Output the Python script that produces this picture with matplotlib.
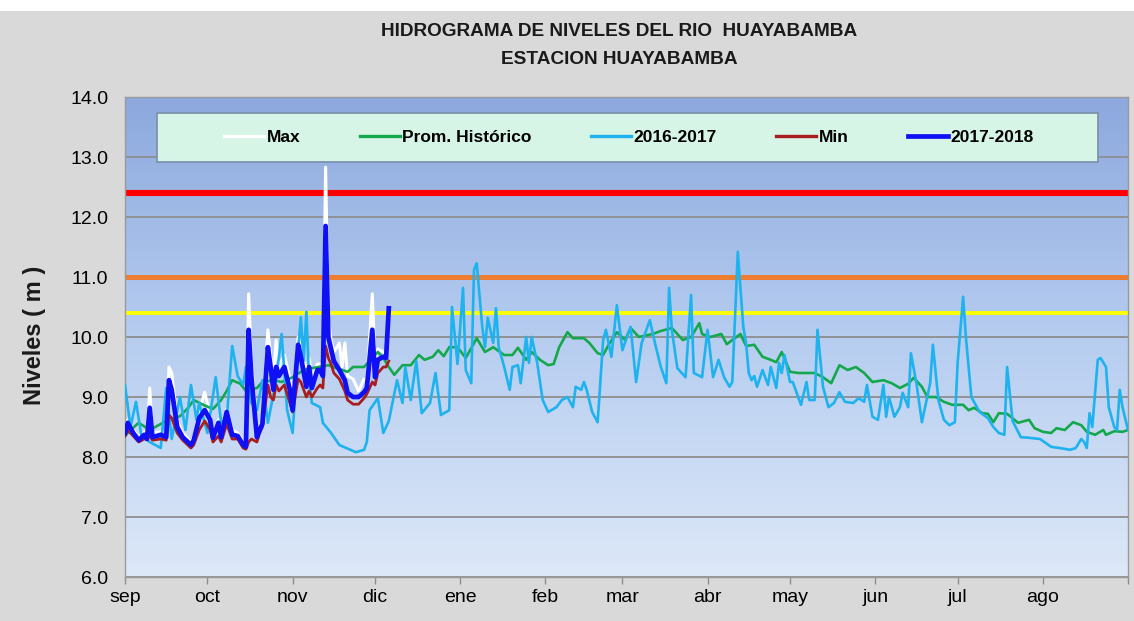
import numpy as np
import matplotlib
matplotlib.use("Agg")
import matplotlib.pyplot as plt
from matplotlib import font_manager as fm
from matplotlib.colors import LinearSegmentedColormap
from matplotlib.patches import Rectangle
from matplotlib.lines import Line2D

# ---------------- data ----------------
months = ['sep', 'oct', 'nov', 'dic', 'ene', 'feb', 'mar', 'abr', 'may', 'jun', 'jul', 'ago']
month_start_day = [0, 30, 61, 91, 122, 153, 181, 212, 242, 273, 303, 334]
year_days = 365

y_ticks = [6.0, 7.0, 8.0, 9.0, 10.0, 11.0, 12.0, 13.0, 14.0]

alert_levels = [12.4, 11.0, 10.4]   # red, orange, yellow

# (day of hydrological year, level m)
serie_2016_2017 = [
    (0, 9.20), (2, 8.50), (4, 8.92), (6, 8.35), (9, 8.25), (13, 8.15), (15, 9.15), (17, 8.30),
    (20, 9.00), (22, 8.45), (24, 9.20), (26, 8.62), (27, 8.90), (30, 8.40), (33, 9.33), (35, 8.57),
    (37, 8.62), (39, 9.85), (41, 9.35), (43, 9.20), (44, 9.50), (46, 8.90), (48, 8.78), (50, 9.28),
    (52, 8.57), (55, 9.28), (57, 10.05), (59, 8.78), (61, 8.40), (63, 9.78), (64, 10.33), (65, 9.60),
    (66, 10.42), (67, 9.28), (68, 8.90), (71, 8.83), (72, 8.57), (75, 8.40), (78, 8.20), (82, 8.12),
    (84, 8.08), (87, 8.12), (88, 8.25), (89, 8.78), (92, 8.98), (94, 8.40), (96, 8.60), (99, 9.28),
    (101, 8.90), (102, 9.50), (104, 8.95), (106, 9.60), (108, 8.73), (111, 8.90), (113, 9.40),
    (115, 8.70), (118, 8.78), (119, 10.50), (121, 9.55), (123, 10.82), (124, 9.45), (126, 9.23),
    (127, 11.12), (128, 11.23), (130, 10.17), (131, 9.83), (132, 10.32), (134, 9.90), (135, 10.48),
    (136, 9.83), (138, 9.50), (140, 9.12), (141, 9.50), (143, 9.53), (144, 9.23), (146, 10.00),
    (147, 9.57), (148, 10.00), (150, 9.57), (152, 8.95), (154, 8.75), (157, 8.83), (159, 8.95),
    (161, 9.00), (163, 8.83), (164, 9.17), (166, 9.12), (167, 9.25), (168, 9.12), (170, 8.75),
    (172, 8.58), (174, 9.95), (175, 10.12), (177, 9.67), (179, 10.53), (181, 9.78), (184, 10.17),
    (186, 9.25), (188, 9.90), (191, 10.28), (193, 9.87), (195, 9.50), (197, 9.23), (198, 10.82),
    (199, 10.12), (201, 9.48), (204, 9.33), (206, 10.70), (207, 9.40), (210, 9.33), (212, 10.12),
    (214, 9.33), (216, 9.62), (218, 9.33), (220, 9.17), (221, 9.25), (223, 11.42), (225, 10.17),
    (226, 9.90), (227, 9.40), (228, 9.28), (229, 9.35), (230, 9.17), (232, 9.45), (234, 9.20),
    (235, 9.50), (237, 9.15), (238, 9.57), (239, 9.40), (240, 9.70), (242, 9.25), (243, 9.25),
    (246, 8.87), (248, 9.25), (249, 8.95), (251, 8.95), (252, 10.12), (254, 9.17), (256, 8.83),
    (258, 8.90), (260, 9.08), (262, 8.92), (265, 8.90), (267, 8.98), (269, 8.92), (270, 9.20),
    (272, 8.67), (274, 8.62), (276, 9.20), (277, 8.67), (278, 9.00), (280, 8.67), (282, 8.83),
    (283, 9.07), (285, 8.83), (286, 9.73), (288, 9.23), (290, 8.58), (293, 9.23), (294, 9.87),
    (296, 8.95), (298, 8.62), (300, 8.53), (302, 8.58), (303, 9.57), (305, 10.67), (306, 10.00),
    (308, 9.00), (311, 8.75), (314, 8.65), (316, 8.50), (318, 8.40), (320, 8.37), (321, 9.50),
    (323, 8.60), (326, 8.33), (329, 8.32), (333, 8.30), (337, 8.17), (340, 8.15), (344, 8.12),
    (346, 8.15), (348, 8.30), (349, 8.25), (350, 8.15), (351, 8.73), (352, 8.50), (354, 9.62),
    (355, 9.65), (357, 9.50), (358, 8.83), (360, 8.50), (361, 8.45), (362, 9.12), (363, 8.83),
    (365, 8.45),
]

prom_historico = [
    (0, 8.35), (2, 8.45), (5, 8.57), (9, 8.45), (15, 8.60), (20, 8.68), (23, 8.82), (25, 8.95),
    (28, 8.88), (32, 8.80), (35, 8.95), (37, 9.10), (39, 9.28), (42, 9.22), (44, 9.10), (48, 9.15),
    (50, 9.25), (54, 9.28), (57, 9.25), (61, 9.33), (65, 9.45), (68, 9.48), (74, 9.53), (77, 9.48),
    (81, 9.42), (83, 9.50), (87, 9.50), (92, 9.75), (94, 9.65), (96, 9.50), (98, 9.37), (101, 9.53),
    (104, 9.53), (107, 9.70), (109, 9.62), (112, 9.67), (114, 9.78), (116, 9.68), (118, 9.83),
    (121, 9.83), (124, 9.65), (128, 9.98), (131, 9.75), (134, 9.83), (138, 9.70), (141, 9.70),
    (143, 9.82), (146, 9.62), (148, 9.75), (151, 9.62), (154, 9.53), (156, 9.55), (158, 9.83),
    (161, 10.08), (163, 9.98), (167, 9.98), (169, 9.90), (172, 9.73), (174, 9.70), (176, 9.87),
    (179, 10.08), (182, 9.95), (184, 10.15), (187, 10.00), (192, 10.05), (195, 10.10), (199, 10.15),
    (203, 9.95), (206, 10.00), (209, 10.23), (210, 10.05), (213, 10.00), (217, 10.05), (219, 9.88),
    (221, 9.95), (224, 10.05), (226, 9.85), (229, 9.87), (232, 9.67), (235, 9.62), (237, 9.58),
    (239, 9.75), (242, 9.42), (245, 9.40), (248, 9.40), (251, 9.40), (254, 9.33), (257, 9.23),
    (260, 9.53), (263, 9.45), (266, 9.50), (269, 9.40), (272, 9.25), (276, 9.28), (279, 9.23),
    (282, 9.15), (285, 9.22), (287, 9.32), (290, 9.17), (292, 9.00), (295, 9.00), (298, 8.92),
    (301, 8.87), (305, 8.87), (307, 8.78), (309, 8.82), (312, 8.73), (314, 8.72), (316, 8.58),
    (318, 8.73), (321, 8.72), (325, 8.57), (329, 8.62), (331, 8.48), (334, 8.42), (337, 8.40),
    (339, 8.48), (342, 8.45), (345, 8.58), (348, 8.53), (350, 8.42), (353, 8.37), (356, 8.45),
    (357, 8.37), (360, 8.43), (363, 8.42), (365, 8.45),
]

serie_2017_2018 = [
    (0, 8.40), (1, 8.57), (3, 8.40), (5, 8.28), (7, 8.37), (8, 8.30), (9, 8.82), (10, 8.33),
    (13, 8.37), (15, 8.33), (16, 9.28), (17, 9.12), (19, 8.50), (21, 8.33), (24, 8.20), (25, 8.28),
    (27, 8.65), (29, 8.78), (31, 8.62), (32, 8.32), (34, 8.57), (35, 8.33), (37, 8.75), (39, 8.37),
    (41, 8.35), (43, 8.20), (44, 8.17), (45, 10.12), (46, 9.33), (48, 8.33), (49, 8.45), (50, 8.55),
    (52, 9.83), (53, 9.50), (54, 9.12), (55, 9.50), (56, 9.35), (58, 9.50), (60, 9.12), (61, 8.78),
    (63, 9.87), (64, 9.67), (66, 9.17), (67, 9.50), (68, 9.15), (70, 9.45), (71, 9.45), (72, 9.35),
    (73, 11.85), (74, 10.00), (75, 9.80), (76, 9.60), (78, 9.45), (80, 9.28), (81, 9.07), (83, 9.00),
    (85, 9.00), (87, 9.08), (88, 9.15), (90, 10.12), (91, 9.33), (92, 9.62), (94, 9.67), (95, 9.65),
    (96, 10.48),
]

serie_max = [
    (0, 8.45), (1, 8.62), (3, 8.45), (5, 8.33), (7, 8.42), (8, 8.35), (9, 9.15), (10, 8.40),
    (13, 8.42), (15, 8.40), (16, 9.50), (17, 9.40), (19, 8.60), (21, 8.40), (24, 8.25), (25, 8.33),
    (27, 8.75), (29, 9.08), (31, 8.70), (32, 8.40), (34, 8.62), (35, 8.40), (37, 8.80), (39, 8.45),
    (41, 8.40), (43, 8.25), (44, 8.22), (45, 10.72), (46, 9.60), (48, 8.40), (49, 8.50), (50, 8.62),
    (52, 10.12), (53, 9.70), (54, 9.30), (55, 9.95), (56, 9.50), (58, 9.70), (60, 9.30), (61, 8.95),
    (63, 10.00), (64, 9.80), (66, 9.40), (67, 9.65), (68, 9.30), (70, 9.55), (71, 9.55), (72, 9.45),
    (73, 12.83), (74, 10.30), (75, 9.95), (76, 9.75), (78, 9.90), (79, 9.50), (80, 9.90), (81, 9.35),
    (83, 9.30), (85, 9.10), (87, 9.30), (88, 9.25), (90, 10.72), (91, 9.60), (92, 9.80), (94, 9.75),
    (95, 9.70), (96, 10.50),
]

serie_min = [
    (0, 8.35), (1, 8.45), (3, 8.35), (5, 8.25), (7, 8.30), (9, 8.35), (10, 8.28), (13, 8.30),
    (15, 8.28), (16, 8.70), (17, 8.65), (19, 8.40), (21, 8.28), (24, 8.15), (25, 8.20), (27, 8.45),
    (29, 8.60), (31, 8.45), (32, 8.25), (34, 8.35), (35, 8.25), (37, 8.55), (39, 8.30), (41, 8.30),
    (43, 8.15), (44, 8.13), (45, 8.25), (46, 8.30), (48, 8.25), (49, 8.40), (50, 8.50), (52, 9.20),
    (53, 9.00), (54, 8.95), (55, 9.20), (56, 9.10), (58, 9.20), (60, 8.90), (61, 8.75), (63, 9.30),
    (64, 9.25), (66, 9.00), (67, 9.10), (68, 9.00), (70, 9.15), (71, 9.20), (72, 9.15), (73, 9.85),
    (74, 9.65), (75, 9.55), (76, 9.40), (78, 9.30), (80, 9.10), (81, 8.95), (83, 8.88), (85, 8.88),
    (87, 8.98), (88, 9.05), (90, 9.25), (91, 9.20), (92, 9.40), (94, 9.50), (95, 9.50), (96, 9.60),
]

title_lines = ["HIDROGRAMA DE NIVELES DEL RIO  HUAYABAMBA", "ESTACION HUAYABAMBA"]
y_label = "Niveles ( m )"
legend_labels = ["Max", "Prom. Histórico", "2016-2017", "Min", "2017-2018"]

# ---------------- style ----------------
names = {f.name for f in fm.fontManager.ttflist}
FONT = 'Liberation Sans Narrow' if 'Liberation Sans Narrow' in names else 'Liberation Sans'
plt.rcParams['font.family'] = [FONT, 'DejaVu Sans']

C_MAX = '#FFFFFF'
C_PROM = '#14A84C'
C_1617 = '#1EB2EE'
C_MIN = '#A81E1E'
C_1718 = '#1010F5'
ALERT_COLORS = ['#FF0000', '#ED7D31', '#FFFF00']
ALERT_LW = [4.4, 3.6, 2.8]


def unzip(pairs):
    a = np.array(pairs, dtype=float)
    return a[:, 0], a[:, 1]


W, H = 1134, 621
fig = plt.figure(figsize=(W / 100, H / 100), dpi=100, facecolor='#D9D9D9')
fig.patches.append(Rectangle((0, 1 - 11 / H), 1, 11 / H, transform=fig.transFigure,
                             facecolor='white', edgecolor='none', zorder=0))

ax = fig.add_axes([125 / W, 1 - 577 / H, (1128 - 125) / W, (577 - 97) / H])
ax.set_xlim(0, year_days)
ax.set_ylim(6, 14)

# gradient background
cmap = LinearSegmentedColormap.from_list('bg', ['#DDE8F8', '#B6CDF0', '#8CA8DD'])
ax.imshow(np.linspace(0, 1, 256).reshape(-1, 1), extent=[0, year_days, 6, 14],
          aspect='auto', cmap=cmap, origin='lower', zorder=0)

ax.set_yticks(y_ticks)
ax.set_yticklabels([f"{v:.1f}" for v in y_ticks])
ax.yaxis.grid(True, color='#8E8E8E', lw=1.3)
ax.set_axisbelow(True)
for g in ax.get_ygridlines():
    g.set_zorder(0.5)

ax.set_xticks(month_start_day + [year_days])
ax.set_xticklabels(months + [''])
ax.tick_params(axis='x', length=5, width=1, color='#8E8E8E', pad=4, labelsize=14)
ax.tick_params(axis='y', length=0, pad=12, labelsize=14)
for s in ax.spines.values():
    s.set_color('#9A9A9A')
    s.set_linewidth(1.0)

for lvl, c, lw in zip(alert_levels, ALERT_COLORS, ALERT_LW):
    ax.axhline(lvl, color=c, lw=lw, zorder=2)

x, y = unzip(serie_max)
ax.plot(x, y, color=C_MAX, lw=2.2, zorder=3)
x, y = unzip(prom_historico)
ax.plot(x, y, color=C_PROM, lw=1.9, zorder=4)
x, y = unzip(serie_2016_2017)
ax.plot(x, y, color=C_1617, lw=1.9, zorder=5)
x, y = unzip(serie_min)
ax.plot(x, y, color=C_MIN, lw=2.0, zorder=6)
x, y = unzip(serie_2017_2018)
ax.plot(x, y, color=C_1718, lw=3.4, zorder=7)

# legend box
fig.patches.append(Rectangle((157 / W, 1 - 162 / H), 941 / W, 49 / H, transform=fig.transFigure,
                             facecolor='#D6F5E6', edgecolor='#7D93AE', lw=1.3, zorder=10))
handles = [Line2D([], [], color=C_MAX, lw=2.4), Line2D([], [], color=C_PROM, lw=2.4),
           Line2D([], [], color=C_1617, lw=2.4), Line2D([], [], color=C_MIN, lw=2.4),
           Line2D([], [], color=C_1718, lw=3.4)]
leg = fig.legend(handles, legend_labels, loc='center', bbox_to_anchor=(629 / W, 1 - 137.5 / H),
                 ncol=5, frameon=False, handlelength=2.3, handletextpad=0.12, columnspacing=3.45,
                 prop={'family': FONT, 'weight': 'bold', 'size': 12.5})
leg.set_zorder(11)

fig.text(619.5 / W, 1 - 32 / H, title_lines[0], ha='center', va='center',
         fontsize=13.7, fontweight='bold', color='#1A1A1A')
fig.text(619.5 / W, 1 - 60 / H, title_lines[1], ha='center', va='center',
         fontsize=13.7, fontweight='bold', color='#1A1A1A')
fig.text(35 / W, 1 - 335 / H, y_label, rotation=90, ha='center', va='center',
         fontsize=17, fontweight='bold', color='#1A1A1A')

fig.savefig('out.png', dpi=100, facecolor=fig.get_facecolor())
